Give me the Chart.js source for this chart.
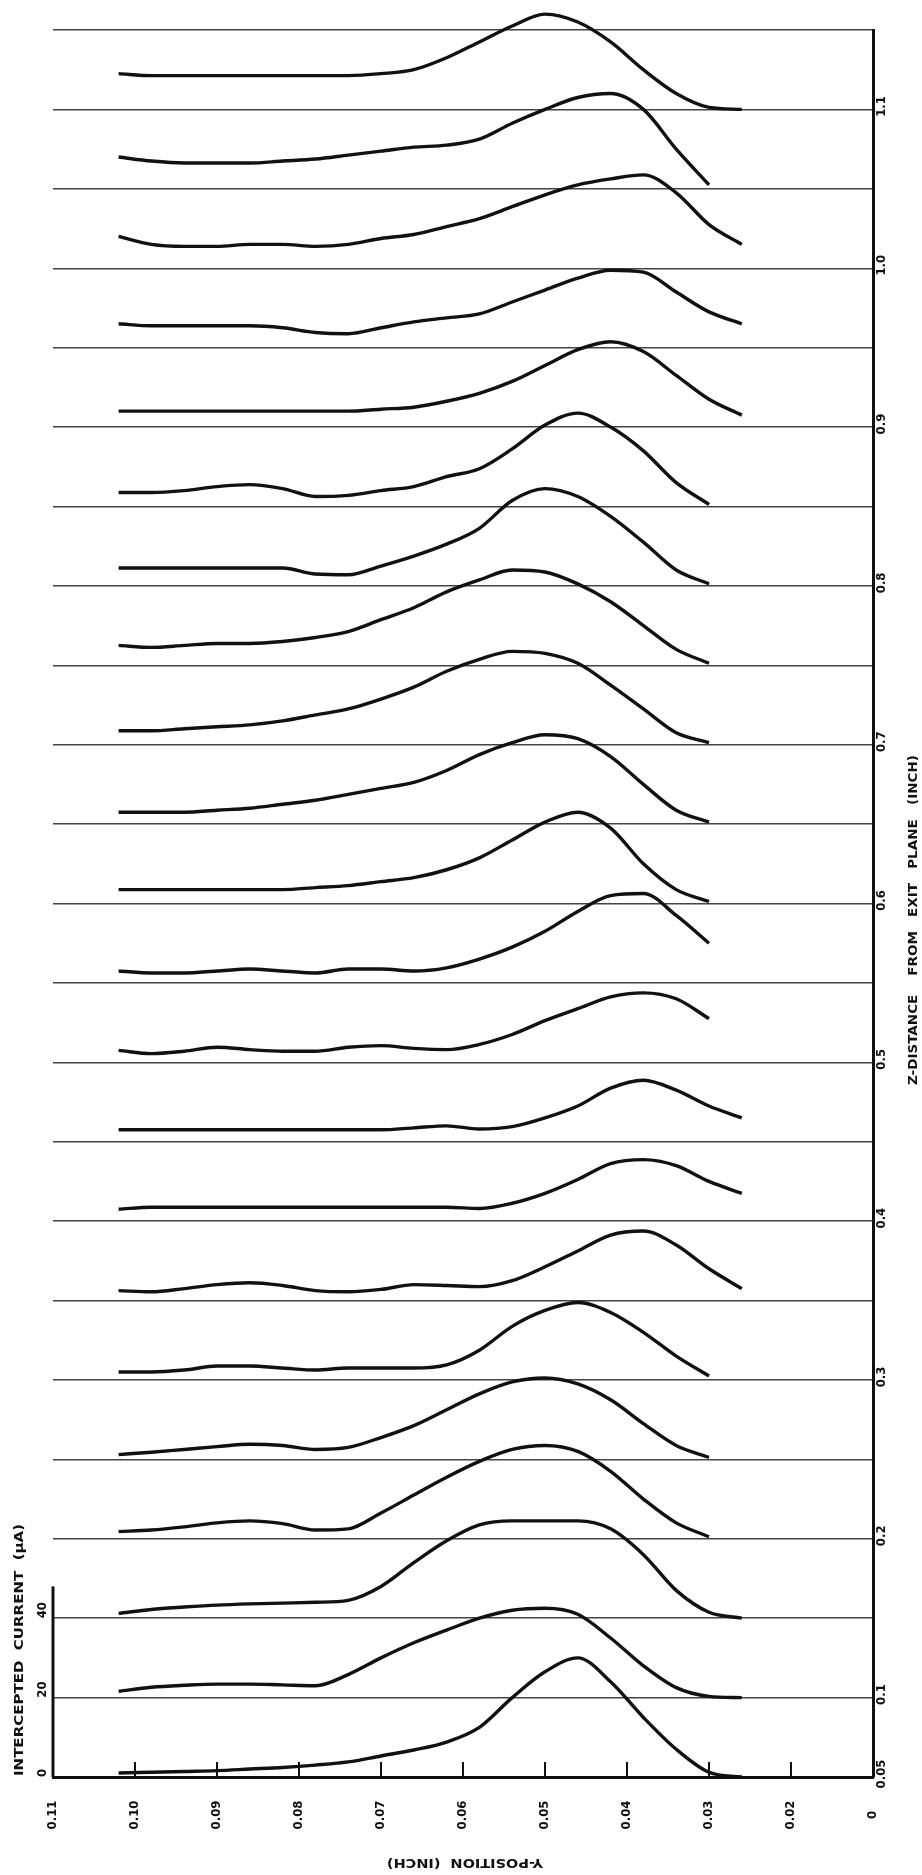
<!DOCTYPE html>
<html>
<head>
<meta charset="utf-8">
<script src="https://cdn.jsdelivr.net/npm/chart.js@4.4.1/dist/chart.umd.min.js"></script>
<style>
  html,body{margin:0;padding:0;background:#fff;}
  #c{display:block;}
</style>
</head>
<body>
<canvas id="c" width="922" height="1875"></canvas>
<script>
// ----- data -----
// y-position samples (inch, axis units; right edge of scale is labelled "0")
const xPositions = [0.102,0.098,0.094,0.090,0.086,0.082,0.078,0.074,0.070,0.066,0.062,0.058,0.054,0.050,0.046,0.042,0.038,0.034,0.030,0.026];
// z-distance of each profile baseline (inch)
const zBaselines = [0.05,0.10,0.15,0.20,0.25,0.30,0.35,0.40,0.45,0.50,0.55,0.60,0.65,0.70,0.75,0.80,0.85,0.90,0.95,1.00,1.05,1.10];
// intercepted current (uA) for each profile, bottom to top
const profiles = [
  [1,1.2,1.4,1.6,2,2.4,3,3.8,5.3,6.8,8.8,12.5,20,26.5,30,24,15,7,1.2,0],
  [1.6,2.6,3.1,3.4,3.4,3.2,3,5.8,10,13.8,17,20,22,22.5,21,15,8,2.5,0.3,0],
  [1.2,2.2,2.8,3.3,3.6,3.8,4,4.5,8,14,19.5,23.5,24.5,24.5,24.5,22.5,16,7,1.5,0],
  [1.8,2.2,3,4,4.5,3.8,2.2,2.5,6.5,11,15.5,19.5,22.5,23.5,22,17,10,4,0.5,null],
  [1.2,1.8,2.5,3.2,3.8,3.5,2.5,3,5.5,8.5,12.5,16.5,19.5,20.5,19,15,9,3.5,0.5,null],
  [2,2,2.5,3.5,3.5,3,2.5,3,3,3,3.8,7.5,13.5,17.5,19.5,17,12,6,1,null],
  [2.5,2.2,3,4,4.5,3.8,2.5,2.2,2.8,4,3.8,3.5,5,8.5,12.5,16.5,17.5,14,8,3],
  [3,3.5,3.5,3.5,3.5,3.5,3.5,3.5,3.5,3.5,3.5,3.2,4.5,7,10.5,14.5,15.5,14,10,7],
  [3,3,3,3,3,3,3,3,3,3.5,4,3.2,3.8,6,9,13.5,15.5,13,9,6],
  [3,2.2,2.8,3.8,3.2,2.8,2.8,3.8,4.2,3.5,3.2,4.5,7,10.5,13.5,16.5,17.5,16,11,null],
  [3,2.5,2.5,3,3.5,3,2.5,3.5,3.5,3,3.8,6,9,13,18,22,22.5,17,10,null],
  [3.5,3.5,3.5,3.5,3.5,3.5,4,4.5,5.5,6.5,8.5,11.5,16,20.5,23,19,10,3.5,0.5,null],
  [3,3,3,3.5,4,5,6,7.5,9,10.5,13.5,17.5,20.5,22.5,21.5,17,10,3.5,0.5,null],
  [3.5,3.5,4,4.5,5,6,7.5,9,11.5,14.5,18.5,21.5,23.5,23,20.5,15,9,3,0.5,null],
  [5,4.5,5,5.5,5.5,6,7,8.5,11.5,14.5,18.5,21.5,24,23.5,20.5,16,10,4,0.5,null],
  [4.5,4.5,4.5,4.5,4.5,4.5,3,2.8,5,7.5,10.5,14.5,21.5,24.5,22.5,17.5,11,4,0.5,null],
  [3.5,3.5,4,5,5.5,4.5,2.5,2.8,4,5,7.5,9.5,14.5,20.5,23.5,20,14,6,0.5,null],
  [4,4,4,4,4,4,4,4,4.5,5,6.5,8.5,11.5,15.5,19.5,21.5,19,13,7,3],
  [6,5.5,5.5,5.5,5.5,5,3.8,3.5,5,6.5,7.5,8.5,11.5,14.5,17.5,19.5,19,14,9,6],
  [8,6,5.5,5.5,6,6,5.5,6,7.5,8.5,10.5,12.5,15.5,18.5,21,22.5,23.5,19,11,6],
  [8,7,6.5,6.5,6.5,7,7.5,8.5,9.5,10.5,11,12.5,16.5,20,23,24,20,10,1,null],
  [9,8.5,8.5,8.5,8.5,8.5,8.5,8.5,9,10,13,17,21,24,22,17,10,4,0.5,0]
];
const uAPerZ = 20 / 0.05;            // 20 uA spans one 0.05 inch baseline step
const gridZ = [0.05,0.10,0.15,0.20,0.25,0.30,0.35,0.40,0.45,0.50,0.55,0.60,0.65,0.70,0.75,0.80,0.85,0.90,0.95,1.00,1.05,1.10,1.15];
const zTickValues = [0.05,0.1,0.2,0.3,0.4,0.5,0.6,0.7,0.8,0.9,1.0,1.1];
const zTickLabels = ["0.05","0.1","0.2","0.3","0.4","0.5","0.6","0.7","0.8","0.9","1.0","1.1"];
const xTickValues = [0.11,0.10,0.09,0.08,0.07,0.06,0.05,0.04,0.03,0.02,0.01];
const xTickLabels = ["0.11","0.10","0.09","0.08","0.07","0.06","0.05","0.04","0.03","0.02","0"];
const currentTicks = [0,20,40];
const currentAxisTop = 48;

// ----- build datasets -----
const datasets = profiles.map((cur, k) => ({
  data: xPositions.map((x, i) => ({x: x, y: cur[i] == null ? null : zBaselines[k] + cur[i] / uAPerZ})),
  borderColor: "#111",
  borderWidth: 3.4,
  pointRadius: 0,
  cubicInterpolationMode: "monotone",
  spanGaps: false,
  clip: false
}));

// ----- text + inset axis -----
function rotText(ctx, text, x, y, angle, font, align){
  ctx.save();
  ctx.translate(x, y);
  ctx.rotate(angle);
  ctx.font = font;
  ctx.textAlign = align || "center";
  ctx.textBaseline = "middle";
  ctx.fillText(text, 0, 0);
  ctx.restore();
}
function fitText(ctx, text, x, y, angle, font, len){
  ctx.save();
  ctx.font = font;
  const w = ctx.measureText(text).width;
  ctx.translate(x, y);
  ctx.rotate(angle);
  ctx.scale(len / w, 1);
  ctx.textAlign = "center";
  ctx.textBaseline = "middle";
  ctx.fillText(text, 0, 0);
  ctx.restore();
}

const annotate = {
  id: "annotate",
  afterDraw(chart){
    const ctx = chart.ctx;
    const xs = chart.scales.x, ys = chart.scales.y;
    const area = chart.chartArea;
    const up = -Math.PI / 2;
    const f = "bold 13px 'DejaVu Sans Condensed', 'DejaVu Sans', sans-serif";
    ctx.fillStyle = "#111";
    ctx.strokeStyle = "#111";

    // tick marks on the bottom axis
    ctx.lineWidth = 2;
    xTickValues.forEach(v => {
      if (v >= 0.11 || v <= 0.01) return;
      const px = xs.getPixelForValue(v);
      ctx.beginPath(); ctx.moveTo(px, area.bottom); ctx.lineTo(px, area.bottom - 15); ctx.stroke();
    });
    // bottom tick labels
    xTickValues.forEach((v, i) => {
      rotText(ctx, xTickLabels[i], xs.getPixelForValue(v), area.bottom + 38, up, f);
    });
    // right tick labels
    zTickValues.forEach((v, i) => {
      rotText(ctx, zTickLabels[i], area.right + 9, ys.getPixelForValue(v) - 3, up, f);
    });

    // inset current axis
    const y0 = ys.getPixelForValue(zBaselines[0]);
    const yTop = ys.getPixelForValue(zBaselines[0] + currentAxisTop / uAPerZ);
    ctx.lineWidth = 3;
    ctx.beginPath(); ctx.moveTo(area.left, y0); ctx.lineTo(area.left, yTop); ctx.stroke();
    currentTicks.forEach(c => {
      const py = ys.getPixelForValue(zBaselines[0] + c / uAPerZ);
      rotText(ctx, String(c), area.left - 10, py - (c ? 8 : 4), up, f);
    });

    // titles
    fitText(ctx, "INTERCEPTED  CURRENT  (\u03BCA)", 20, 1650, up, "bold 12px 'DejaVu Sans Condensed', sans-serif", 252);
    fitText(ctx, "Z-DISTANCE    FROM   EXIT   PLANE   (INCH)", 914, 920, up, "bold 12px 'DejaVu Sans Condensed', sans-serif", 330);
    fitText(ctx, "Y-POSITION  (INCH)", 465, 1862, Math.PI, "bold 12px 'DejaVu Sans Condensed', sans-serif", 156);
  }
};

new Chart(document.getElementById("c"), {
  type: "line",
  data: { datasets },
  options: {
    responsive: false,
    animation: false,
    layout: { padding: { left: 53, right: 49, top: 30, bottom: 98 } },
    plugins: { legend: { display: false }, tooltip: { enabled: false } },
    scales: {
      x: {
        type: "linear", min: 0.01, max: 0.11, reverse: true,
        grid: { display: false, drawTicks: false },
        border: { display: true, color: "#111", width: 3 },
        ticks: { display: false }
      },
      y: {
        type: "linear", position: "right", min: 0.05, max: 1.15,
        afterBuildTicks: s => { s.ticks = gridZ.map(v => ({ value: v })); },
        grid: { color: "#444", lineWidth: 1.4, drawTicks: false },
        border: { display: true, color: "#111", width: 3 },
        ticks: { display: false }
      }
    }
  },
  plugins: [annotate]
});
</script>
</body>
</html>
